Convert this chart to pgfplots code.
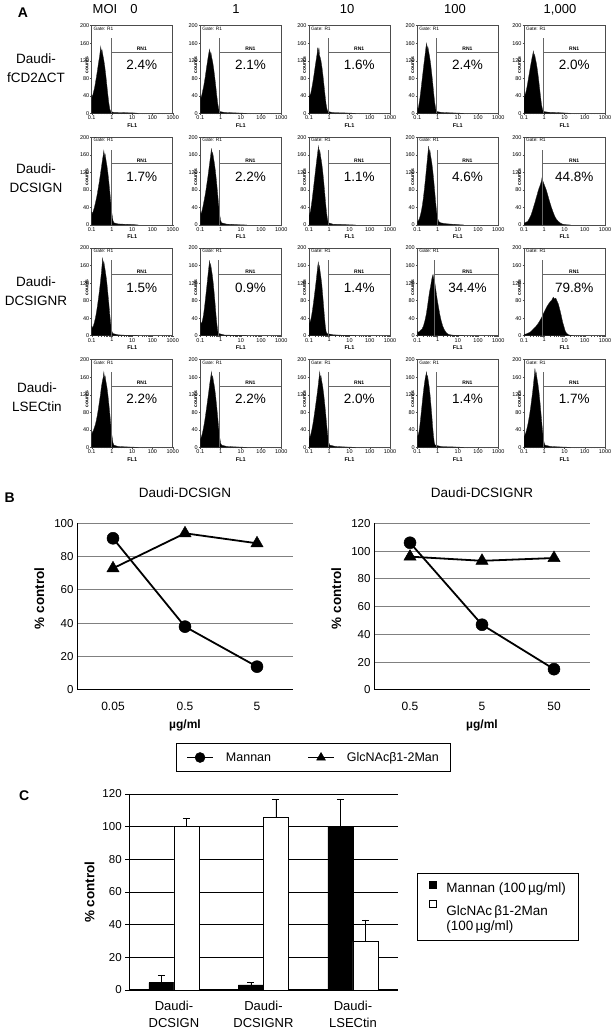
\documentclass[border=0pt]{standalone}
\usepackage{fontspec}
\setmainfont{Liberation Sans}
\usepackage{pgfplots}
\pgfplotsset{compat=1.18}
\newcommand\fs[1]{\fontsize{#1}{#1}\selectfont}
% FACS panels: x axis is log10(FL1), values typed as log10 of the intensity
\pgfplotsset{
  facsstyle/.style={
    anchor=south west, scale only axis, width=81pt, height=87.6pt,
    xmin=-1, xmax=3, ymin=0, ymax=200,
    xtick={-1,0,1,2,3}, xticklabels={0.1,1,10,100,1000},
    minor xtick={-0.699,-0.523,-0.398,-0.301,-0.222,-0.155,-0.097,-0.046,0.301,0.477,0.602,0.699,0.778,0.845,0.903,0.954,1.301,1.477,1.602,1.699,1.778,1.845,1.903,1.954,2.301,2.477,2.602,2.699,2.778,2.845,2.903,2.954},
    ytick={0,40,80,120,160,200},
    tick label style={font=\fs{5.5}, inner sep=0.8pt},
    tick align=outside, tick pos=left,
    major tick length=1.5pt, minor tick length=1pt,
    every tick/.style={black!70, line width=0.4pt},
    axis line style={black!70, line width=0.5pt},
    xlabel={FL1}, ylabel={counts},
    xlabel style={font=\bfseries\fs{5.5}, at={(axis description cs:0.5,-0.135)}, anchor=center, inner sep=0pt},
    ylabel style={font=\bfseries\fs{5}, at={(axis description cs:-0.06,0.55)}, anchor=center, inner sep=0pt},
  },
  bstyle/.style={
    anchor=south west, scale only axis, width=216pt, height=166.7pt,
    xmin=-0.5, xmax=2.5, ymin=0, xtick={0,1,2}, ytick distance=20,
    axis x line*=bottom, axis y line*=left,
    axis line style={black, line width=1pt},
    ymajorgrids, grid style={black!50, line width=1pt},
    xtick style={draw=none}, ytick style={draw=none},
    yticklabel style={font=\fs{11.5}},
    xticklabel style={font=\fs{12}, anchor=center, yshift=-16.7pt},
    title style={font=\fs{13.5}, at={(axis description cs:0.5,1)}, anchor=center, yshift=25pt},
    ylabel={\% control},
    ylabel style={font=\bfseries\fs{13.5}, at={(axis description cs:-0.175,0.55)}, anchor=center},
    xlabel={µg/ml},
    xlabel style={font=\bfseries\fs{12}, at={(axis description cs:0.5,0)}, anchor=base, yshift=-39pt},
    clip=false,
  },
}
\pgfplotsset{/pgf/number format/assume math mode=true}
\newcommand\facs[5]{%
\begin{axis}[facsstyle, at={(#1pt,#2pt)}]
\addplot[fill=black, draw=black!85, line width=0.3pt] coordinates {#5} \closedcycle;
\draw[black!60, line width=0.5pt] (axis cs:#3,0) -- (axis cs:#3,172);
\draw[black!60, line width=0.5pt] (axis cs:#3,140) -- (axis cs:3,140);
\node[font=\bfseries\fs{5}, anchor=south, inner sep=1pt] at (axis cs:1.477,140) {RN1};
\node[font=\fs{13.5}, anchor=center] at (axis cs:1.477,110) {#4\%};
\node[font=\fs{4.8}, anchor=north west, inner sep=1pt] at (axis description cs:0.01,1) {Gate: R1};
\end{axis}}
\begin{document}
\begin{tikzpicture}
\useasboundingbox (0,0) rectangle (611pt,1030pt);
% panel letters
\node[font=\bfseries\fs{14}] at (23pt,1017pt) {A};
\node[font=\bfseries\fs{14}] at (9.7pt,532.5pt) {B};
\node[font=\bfseries\fs{14}] at (24.3pt,234pt) {C};
% column headers
\node[font=\fs{13}, anchor=base] at (105pt,1016pt) {MOI};
\node[font=\fs{13}, anchor=base] at (134pt,1016pt) {0};
\node[font=\fs{13}, anchor=base] at (236pt,1016pt) {1};
\node[font=\fs{13}, anchor=base] at (347pt,1016pt) {10};
\node[font=\fs{13}, anchor=base] at (455pt,1016pt) {100};
\node[font=\fs{13}, anchor=base] at (560pt,1016pt) {1,000};
% row labels
\node[font=\fontsize{13.5}{19}\selectfont, align=center] at (36pt,962pt) {Daudi-\\fCD2ΔCT};
\node[font=\fontsize{13.5}{19}\selectfont, align=center] at (36pt,852pt) {Daudi-\\DCSIGN};
\node[font=\fontsize{13.5}{19}\selectfont, align=center] at (36pt,739pt) {Daudi-\\DCSIGNR};
\node[font=\fontsize{13.5}{19}\selectfont, align=center] at (37pt,633pt) {Daudi-\\LSECtin};
% ---- row 1: fCD2dCT
\facs{91.7}{916.7}{-0.046}{2.4}{(-1,0)(-1,42)(-0.96,38)(-0.92,47)(-0.88,54)(-0.84,63)(-0.80,74)(-0.76,85)(-0.72,97)(-0.68,110)(-0.64,122)(-0.61,130)(-0.58,142)(-0.553,152)(-0.523,138)(-0.493,145)(-0.453,134)(-0.403,122)(-0.353,106)(-0.303,87)(-0.253,65)(-0.203,43)(-0.153,23)(-0.103,9)(-0.053,4)(0.1,2)(0.6,1.5)(1.1,0.8)(1.3,0)}
\facs{200.3}{916.7}{-0.046}{2.1}{(-1,0)(-1,40)(-0.96,36)(-0.92,43)(-0.88,52)(-0.84,60)(-0.80,71)(-0.76,82)(-0.72,95)(-0.68,108)(-0.64,120)(-0.60,132)(-0.57,140)(-0.538,146)(-0.508,133)(-0.478,139)(-0.438,128)(-0.388,117)(-0.338,102)(-0.288,83)(-0.238,63)(-0.188,41)(-0.138,22)(-0.088,9)(-0.038,4)(0.2,2)(0.7,1)(1.3,0)}
\facs{309}{916.7}{-0.046}{1.6}{(-1,0)(-1,38)(-0.96,42)(-0.92,44)(-0.88,53)(-0.84,63)(-0.80,74)(-0.76,86)(-0.72,99)(-0.68,112)(-0.64,124)(-0.60,136)(-0.569,150)(-0.54,136)(-0.509,150)(-0.48,132)(-0.449,128)(-0.409,120)(-0.359,105)(-0.309,86)(-0.259,64)(-0.209,42)(-0.159,22)(-0.109,9)(-0.059,4)(0.2,1.5)(0.7,1)(1.3,0)}
\facs{417.3}{916.7}{-0.046}{2.4}{(-1,0)(-1,14)(-0.96,10)(-0.92,20)(-0.88,32)(-0.84,46)(-0.80,62)(-0.76,78)(-0.72,94)(-0.68,110)(-0.64,125)(-0.60,140)(-0.57,152)(-0.538,160)(-0.508,146)(-0.478,152)(-0.438,141)(-0.388,128)(-0.338,112)(-0.288,91)(-0.238,69)(-0.188,45)(-0.138,24)(-0.088,10)(-0.038,4)(0.2,2)(0.7,1)(1.3,0)}
\facs{524}{916.7}{-0.046}{2.0}{(-1,0)(-1,55)(-0.98,38)(-0.95,42)(-0.91,48)(-0.87,56)(-0.83,66)(-0.79,77)(-0.75,88)(-0.71,99)(-0.67,110)(-0.63,120)(-0.59,130)(-0.56,136)(-0.538,142)(-0.508,130)(-0.478,135)(-0.438,125)(-0.388,114)(-0.338,99)(-0.288,81)(-0.238,61)(-0.188,40)(-0.138,21)(-0.088,9)(-0.038,4)(0.2,2.5)(0.7,1.5)(1.3,0)}
% ---- row 2: DCSIGN
\facs{91.7}{805}{-0.046}{1.7}{(-1,0)(-1,30)(-0.96,26)(-0.92,32)(-0.87,40)(-0.82,50)(-0.77,60)(-0.72,72)(-0.67,86)(-0.62,100)(-0.57,116)(-0.52,132)(-0.47,148)(-0.43,160)(-0.40,170)(-0.37,155)(-0.34,162)(-0.30,150)(-0.25,136)(-0.20,119)(-0.15,97)(-0.10,73)(-0.05,48)(0,25)(0.05,10)(0.1,5)(0.3,2.5)(0.7,1.5)(1.1,0.8)(1.3,0)}
\facs{200.3}{805}{-0.046}{2.2}{(-1,0)(-1,30)(-0.96,26)(-0.92,32)(-0.87,42)(-0.82,54)(-0.77,66)(-0.72,80)(-0.67,96)(-0.62,112)(-0.57,130)(-0.52,148)(-0.48,162)(-0.45,175)(-0.42,160)(-0.39,166)(-0.35,154)(-0.30,140)(-0.25,122)(-0.20,100)(-0.15,75)(-0.10,49)(-0.05,26)(0,11)(0.05,5)(0.3,2)(0.7,1)(1.3,0)}
\facs{309}{805}{-0.046}{1.1}{(-1,0)(-1,28)(-0.96,24)(-0.92,34)(-0.88,46)(-0.84,60)(-0.80,76)(-0.76,92)(-0.72,108)(-0.68,124)(-0.64,140)(-0.60,155)(-0.56,170)(-0.53,180)(-0.50,164)(-0.47,171)(-0.43,158)(-0.38,144)(-0.33,126)(-0.28,103)(-0.23,77)(-0.18,50)(-0.13,27)(-0.08,11)(-0.03,5)(0.2,1.5)(0.7,1)(1.3,0)}
\facs{417.3}{805}{-0.022}{4.6}{(-1,0)(-1,8)(-0.95,10)(-0.90,14)(-0.85,22)(-0.80,32)(-0.75,45)(-0.70,62)(-0.65,82)(-0.60,104)(-0.55,128)(-0.50,152)(-0.47,166)(-0.44,180)(-0.41,164)(-0.38,171)(-0.34,158)(-0.29,144)(-0.24,126)(-0.19,103)(-0.14,77)(-0.09,50)(-0.04,28)(0.01,14)(0.06,8)(0.15,5)(0.4,3)(0.8,1.5)(1.3,0)}
\facs{524}{805}{-0.092}{44.8}{(-1,0)(-1,4)(-0.921,6)(-0.824,8)(-0.745,14)(-0.658,22)(-0.585,32)(-0.523,42)(-0.456,52)(-0.398,62)(-0.347,70)(-0.301,78)(-0.252,85)(-0.208,90)(-0.167,96)(-0.131,102)(-0.097,112)(-0.071,100)(-0.046,98)(0,92)(0.061,85)(0.114,78)(0.176,68)(0.255,55)(0.342,42)(0.431,30)(0.519,20)(0.602,13)(0.699,8)(0.813,4)(0.903,2)(1,1)(1.301,0)}
% ---- row 3: DCSIGNR
\facs{91.7}{694.3}{-0.046}{1.5}{(-1,0)(-1,22)(-0.96,18)(-0.92,22)(-0.87,30)(-0.82,40)(-0.77,52)(-0.72,67)(-0.67,84)(-0.62,102)(-0.57,122)(-0.53,140)(-0.49,160)(-0.46,178)(-0.43,162)(-0.40,169)(-0.36,157)(-0.31,142)(-0.26,125)(-0.21,101)(-0.16,77)(-0.11,50)(-0.06,27)(-0.01,11)(0.04,5)(0.3,2)(0.7,1)(1.3,0)}
\facs{200.3}{694.3}{-0.097}{0.9}{(-1,0)(-1,60)(-0.99,35)(-0.96,28)(-0.92,30)(-0.88,38)(-0.84,48)(-0.80,62)(-0.76,78)(-0.72,95)(-0.68,112)(-0.64,130)(-0.60,148)(-0.57,160)(-0.54,172)(-0.513,157)(-0.486,163)(-0.45,151)(-0.405,138)(-0.36,120)(-0.315,98)(-0.27,74)(-0.225,48)(-0.18,26)(-0.135,10)(-0.09,5)(0.2,1.5)(0.7,1)(1.3,0)}
\facs{309}{694.3}{-0.071}{1.4}{(-1,0)(-1,38)(-0.96,30)(-0.92,35)(-0.88,44)(-0.84,55)(-0.80,68)(-0.76,82)(-0.72,97)(-0.68,112)(-0.64,128)(-0.60,145)(-0.57,158)(-0.54,168)(-0.515,153)(-0.49,160)(-0.455,148)(-0.413,134)(-0.37,118)(-0.328,96)(-0.285,72)(-0.243,47)(-0.2,25)(-0.158,10)(-0.115,5)(0.2,2)(0.7,1)(1.3,0)}
\facs{417.3}{694.3}{-0.143}{34.4}{(-1,0)(-1,10)(-0.921,8)(-0.854,12)(-0.770,15)(-0.699,22)(-0.620,35)(-0.553,50)(-0.495,68)(-0.444,85)(-0.398,100)(-0.347,112)(-0.301,125)(-0.260,135)(-0.222,140)(-0.187,130)(-0.155,128)(-0.125,118)(-0.086,105)(-0.046,92)(0,78)(0.061,62)(0.114,48)(0.176,35)(0.255,22)(0.342,13)(0.447,6)(0.544,3)(0.699,1.5)(1,0.5)(1.301,0)}
\facs{524}{694.3}{-0.097}{79.8}{(-1,0)(-1,3)(-0.886,4)(-0.796,6)(-0.699,8)(-0.602,12)(-0.523,16)(-0.398,22)(-0.301,28)(-0.222,34)(-0.125,42)(-0.046,50)(0.041,58)(0.114,65)(0.204,72)(0.301,78)(0.380,82)(0.447,88)(0.505,84)(0.568,86)(0.623,80)(0.699,72)(0.778,58)(0.845,45)(0.903,32)(0.978,20)(1.041,10)(1.114,5)(1.204,2)(1.398,0)}
% ---- row 4: LSECtin
\facs{91.7}{582.7}{-0.046}{2.2}{(-1,0)(-1,30)(-0.96,35)(-0.92,38)(-0.87,45)(-0.82,52)(-0.77,62)(-0.72,74)(-0.67,88)(-0.62,104)(-0.57,120)(-0.52,138)(-0.47,152)(-0.43,160)(-0.40,172)(-0.37,157)(-0.34,163)(-0.30,151)(-0.25,138)(-0.20,120)(-0.15,98)(-0.10,74)(-0.05,48)(0,26)(0.05,10)(0.1,5)(0.3,2)(0.7,1)(1.3,0)}
\facs{200.3}{582.7}{-0.046}{2.2}{(-1,0)(-1,18)(-0.96,22)(-0.92,28)(-0.87,38)(-0.82,50)(-0.77,64)(-0.72,80)(-0.67,97)(-0.62,114)(-0.57,132)(-0.52,150)(-0.48,162)(-0.45,172)(-0.42,157)(-0.39,163)(-0.35,151)(-0.30,138)(-0.25,120)(-0.20,98)(-0.15,74)(-0.10,48)(-0.05,26)(0,10)(0.05,5)(0.3,2)(0.7,1)(1.3,0)}
\facs{309}{582.7}{-0.046}{2.0}{(-1,0)(-1,26)(-0.96,22)(-0.92,28)(-0.87,38)(-0.82,50)(-0.77,64)(-0.72,80)(-0.67,97)(-0.62,114)(-0.57,132)(-0.53,148)(-0.50,160)(-0.47,172)(-0.44,157)(-0.41,163)(-0.37,151)(-0.32,138)(-0.27,120)(-0.22,98)(-0.17,74)(-0.12,48)(-0.07,26)(-0.02,10)(0.03,5)(0.3,2)(0.7,1)(1.3,0)}
\facs{417.3}{582.7}{-0.071}{1.4}{(-1,0)(-1,25)(-0.96,28)(-0.92,35)(-0.88,48)(-0.84,64)(-0.80,82)(-0.76,100)(-0.72,118)(-0.68,134)(-0.64,148)(-0.60,160)(-0.57,166)(-0.54,172)(-0.515,157)(-0.49,163)(-0.455,151)(-0.413,138)(-0.37,120)(-0.328,98)(-0.285,74)(-0.243,48)(-0.2,26)(-0.158,10)(-0.115,5)(0.2,1.5)(0.7,1)(1.3,0)}
\facs{524}{582.7}{-0.071}{1.7}{(-1,0)(-1,25)(-0.96,28)(-0.92,32)(-0.87,40)(-0.82,50)(-0.77,62)(-0.72,76)(-0.67,92)(-0.62,110)(-0.57,128)(-0.53,146)(-0.49,164)(-0.46,180)(-0.43,164)(-0.40,171)(-0.36,158)(-0.31,144)(-0.26,126)(-0.21,103)(-0.16,77)(-0.11,50)(-0.06,27)(-0.01,11)(0.04,5)(0.3,2)(0.7,1)(1.3,0)}
% ---- panel B left
\begin{axis}[bstyle, at={(77pt,340pt)}, ymax=100, xticklabels={0.05,0.5,5},
  title={Daudi-DCSIGN},
  legend columns=2,
  legend style={at={(axis description cs:1.095,-0.405)}, anchor=center, draw=black, line width=0.8pt,
    font=\fs{12.5}, inner xsep=10pt, inner ysep=7pt,
    /tikz/every odd column/.append style={column sep=10pt},
    /tikz/every even column/.append style={column sep=34pt}},
  legend image code/.code={\draw[mark repeat=2, mark phase=2, #1, mark size=5pt] plot coordinates {(0pt,0pt) (13pt,0pt) (26pt,0pt)};},
]
\addplot[black, line width=1.8pt, mark=*, mark size=6pt, mark options={line width=0.5pt}] coordinates {(0,91) (1,38) (2,14)};
\addplot[black, line width=1.8pt, mark=triangle*, mark size=7pt, mark options={line width=0.5pt}] coordinates {(0,73) (1,94) (2,88)};
\legend{Mannan, GlcNAcβ1-2Man}
\end{axis}
% ---- panel B right
\begin{axis}[bstyle, at={(374pt,340pt)}, ymax=120, xticklabels={0.5,5,50},
  title={Daudi-DCSIGNR}]
\addplot[black, line width=1.8pt, mark=*, mark size=6pt, mark options={line width=0.5pt}] coordinates {(0,106) (1,47) (2,15)};
\addplot[black, line width=1.8pt, mark=triangle*, mark size=7pt, mark options={line width=0.5pt}] coordinates {(0,96) (1,93) (2,95)};
\end{axis}
% ---- panel C
\begin{axis}[anchor=south west, at={(129.2pt,40pt)}, scale only axis, width=268.5pt, height=196pt,
  ybar=0pt, bar width=25pt,
  xmin=-0.5, xmax=2.5, ymin=0, ymax=120, ytick distance=20, xtick={0,1,2},
  xticklabels={{Daudi-\\DCSIGN},{Daudi-\\DCSIGNR},{Daudi-\\LSECtin}},
  xticklabel style={align=center, font=\fontsize{13}{16.7}\selectfont, anchor=north, inner sep=0pt, yshift=-7pt},
  axis x line*=bottom, axis y line*=left, axis line style={black, line width=1pt},
  ymajorgrids, grid style={black, line width=0.8pt},
  xtick style={draw=none}, ytick style={black, line width=0.8pt},
  tick align=outside, major tick length=4pt,
  yticklabel style={font=\fs{11.5}},
  ylabel={\% control},
  ylabel style={font=\bfseries\fs{13.5}, at={(axis description cs:-0.148,0.5)}, anchor=center},
  legend style={at={(axis description cs:1.073,0.595)}, anchor=north west, draw=black, line width=0.8pt,
    font=\fs{13.5}, cells={anchor=west}, row sep=0pt,
    inner xsep=11pt, inner ysep=7pt,
    /tikz/every odd column/.append style={column sep=8pt}},
  legend image code/.code={\draw[#1, line width=0.6pt] (0pt,0pt) rectangle (7pt,7pt);},
  error bars/error bar style={black, line width=0.8pt},
  error bars/error mark options={rotate=90, black, mark size=3.5pt, line width=0.8pt},
]
\addplot[fill=black, draw=black, error bars/.cd, y dir=plus, y explicit]
  coordinates {(0,4.5) +- (0,4.7) (1,3.1) +- (0,1.6) (2,100) +- (0,16.7)};
\addplot[fill=white, draw=black, line width=0.8pt, error bars/.cd, y dir=plus, y explicit]
  coordinates {(0,100.4) +- (0,4.5) (1,105.7) +- (0,11) (2,29.6) +- (0,13.3)};
\addlegendimage{empty legend}
\legend{Mannan (100\,µg/ml), \rule{0pt}{17pt}GlcNAc\,β1-2Man, (100\,µg/ml)}
\end{axis}
\end{tikzpicture}
\end{document}
